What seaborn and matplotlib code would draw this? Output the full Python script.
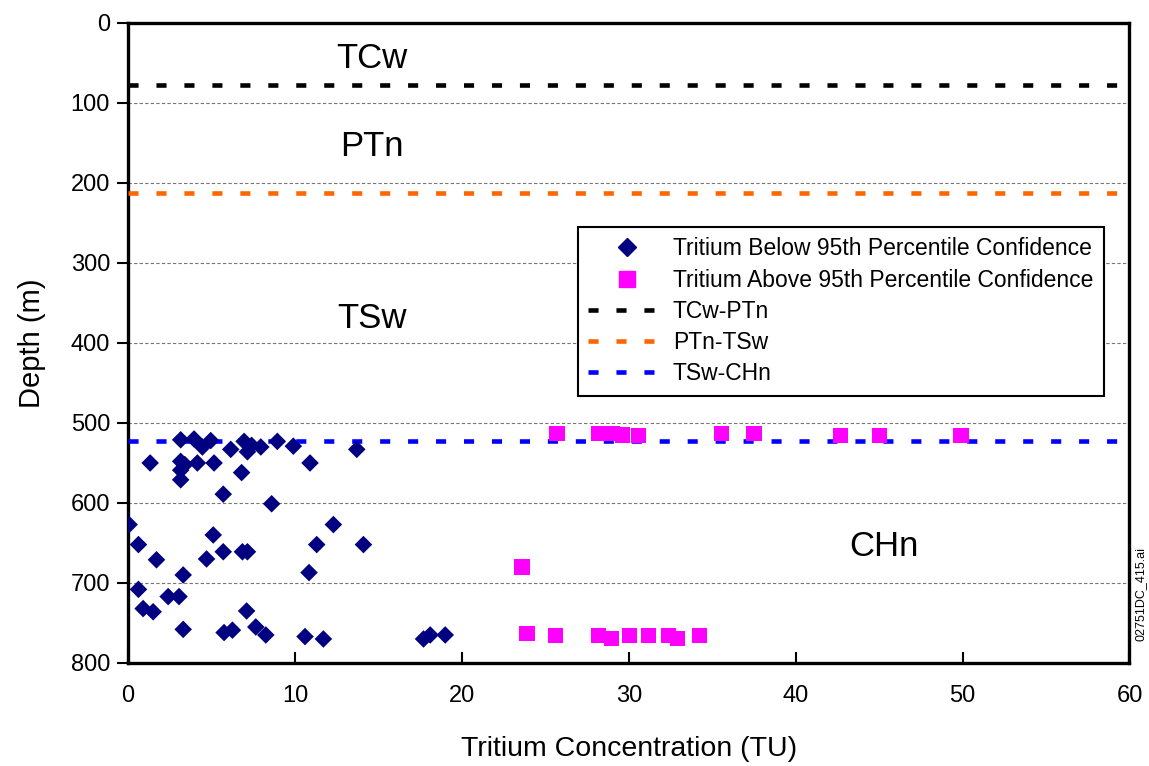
import matplotlib
matplotlib.use("Agg")
import matplotlib.pyplot as plt
import seaborn as sns
import pandas as pd
from matplotlib.lines import Line2D

# ---- data ----
below_tu = [3.15, 3.95, 4.45, 4.95, 3.15, 3.4, 3.15, 3.15, 1.32, 4.15, 5.15, 6.15, 6.95,
            7.15, 7.4, 7.95, 8.94, 9.9, 10.9, 6.8, 5.7, 8.6, 13.7,
            0.06, 0.62, 1.7, 3.3, 0.62, 0.9, 1.5, 2.4, 3.05, 3.3, 4.7, 5.1, 5.7, 6.85, 7.15,
            5.75, 6.25, 7.1, 7.65, 8.25, 10.84, 11.3, 12.3, 14.1, 10.6, 11.7,
            17.7, 18.1, 19.0]
below_depth = [521, 520, 530, 522, 548, 552, 559, 571, 550, 550, 550, 533, 523,
               536, 528, 530, 523, 529, 550, 562, 589, 601, 533,
               627, 652, 671, 690, 708, 732, 736, 717, 717, 758, 670, 640, 661, 661, 661,
               762, 759, 735, 755, 765, 687, 652, 627, 652, 767, 770,
               770, 765, 765]

above_tu = [25.7, 28.2, 29.0, 29.6, 30.6, 35.55, 37.5, 42.7, 45.0, 49.9,
            23.6, 23.9, 25.6, 28.2, 28.95, 30.06, 31.2, 32.4, 32.9, 34.25]
above_depth = [513, 513, 513, 515, 516, 513, 513, 516, 516, 516,
               680, 763, 766, 766, 769, 766, 766, 766, 769, 766]

contact_names = ["TCw-PTn", "PTn-TSw", "TSw-CHn"]
contact_depths = [78, 213, 522]
contact_colors = ["#000000", "#FF6600", "#0000FF"]

unit_names = ["TCw", "PTn", "TSw", "CHn"]
unit_x = [14.6, 14.6, 14.6, 45.3]
unit_y = [44, 154, 369, 655]

below_label = "Tritium Below 95th Percentile Confidence"
above_label = "Tritium Above 95th Percentile Confidence"

# ---- plot ----
sns.set_style("white")
plt.rcParams["font.family"] = ["Liberation Sans", "DejaVu Sans"]
plt.rcParams["text.color"] = "black"
plt.rcParams["axes.labelcolor"] = "black"
plt.rcParams["xtick.color"] = "black"
plt.rcParams["ytick.color"] = "black"

fig = plt.figure(figsize=(11.49, 7.66), dpi=100)
ax = fig.add_axes([0.1115, 0.1345, 0.8715, 0.8355])

df_b = pd.DataFrame({"tu": below_tu, "depth": below_depth})
df_a = pd.DataFrame({"tu": above_tu, "depth": above_depth})

sns.scatterplot(data=df_b, x="tu", y="depth", marker="D", s=80, color="#000080",
                edgecolor="none", ax=ax, zorder=4, legend=False)
sns.scatterplot(data=df_a, x="tu", y="depth", marker="s", s=120, color="#FF00FF",
                edgecolor="none", ax=ax, zorder=4, legend=False)

for d, c in zip(contact_depths, contact_colors):
    ax.axhline(d, color=c, lw=3.3, linestyle=(0, (2.2, 3.9)), zorder=3)

for name, xx, yy in zip(unit_names, unit_x, unit_y):
    ax.text(xx, yy, name, fontsize=25, ha="center", va="center", color="black")

ax.set_xlim(0, 60)
ax.set_ylim(800, 0)
ax.set_xticks(range(0, 61, 10))
ax.set_yticks(range(0, 801, 100))
ax.yaxis.grid(True, color="#777777", linestyle=(0, (3, 2)), lw=0.8)
ax.xaxis.grid(False)
ax.set_axisbelow(True)

for sp in ax.spines.values():
    sp.set_visible(True)
    sp.set_color("black")
    sp.set_linewidth(2.4)

ax.tick_params(axis="y", direction="out", length=8, width=1.5, labelsize=17, pad=5)
ax.tick_params(axis="x", direction="in", length=8, width=1.5, labelsize=17, pad=16)
ax.tick_params(left=True, bottom=True)

ax.set_xlabel("Tritium Concentration (TU)", fontsize=20.5, labelpad=21)
ax.set_ylabel("Depth (m)", fontsize=21, labelpad=18)

handles = [
    Line2D([], [], marker="D", color="#000080", linestyle="none", markersize=9),
    Line2D([], [], marker="s", color="#FF00FF", linestyle="none", markersize=11),
]
labels = [below_label, above_label]
for n, c in zip(contact_names, contact_colors):
    handles.append(Line2D([], [], color=c, lw=3.3, linestyle=(0, (2.2, 3.9))))
    labels.append(n)

leg = ax.legend(handles, labels, loc="upper left", bbox_to_anchor=(0.449, 0.681),
                fontsize=16.5, frameon=True, fancybox=False, framealpha=1,
                edgecolor="black", handlelength=3.4, handletextpad=0.3,
                borderpad=0.45, labelspacing=0.36, borderaxespad=0)
leg.get_frame().set_linewidth(1.5)

fig.text(0.9925, 0.225, "02751DC_415.ai", rotation=90, fontsize=9,
         ha="center", va="center")

fig.savefig("out.png", dpi=100)
